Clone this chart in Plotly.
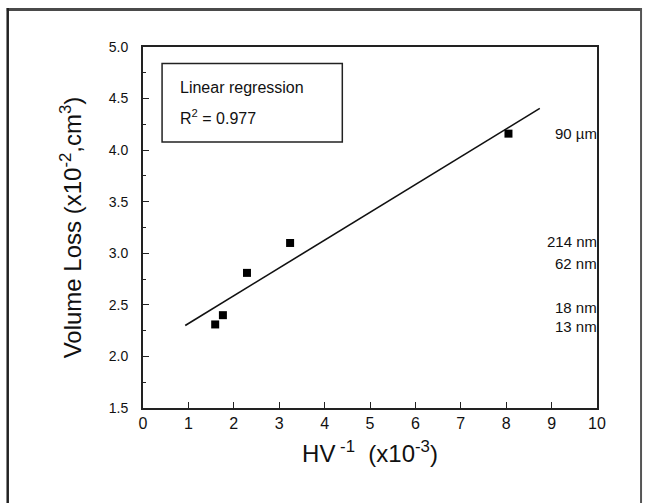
import plotly.graph_objects as go

# Data
hv_inv = [1.59, 1.76, 2.29, 3.24, 8.05]          # HV^-1 (x10^-3)
vol_loss = [2.31, 2.40, 2.81, 3.10, 4.16]        # Volume loss (x10^-2 cm^3)

fit_x = [0.93, 8.74]                              # regression line ends
fit_y = [2.30, 4.405]

size_labels = ["90 µm", "214 nm", "62 nm", "18 nm", "13 nm"]
size_label_y = [4.16, 3.11, 2.90, 2.47, 2.29]

x_ticks = [0, 1, 2, 3, 4, 5, 6, 7, 8, 9, 10]
y_ticks = [1.5, 2.0, 2.5, 3.0, 3.5, 4.0, 4.5, 5.0]

FONT = "Liberation Sans, Arial, sans-serif"
TXT = "#111"

fig = go.Figure()
fig.add_trace(go.Scatter(x=fit_x, y=fit_y, mode="lines",
                         line=dict(color="#111", width=1.6), showlegend=False))
fig.add_trace(go.Scatter(x=hv_inv, y=vol_loss, mode="markers",
                         marker=dict(symbol="square", size=8, color="#000"),
                         showlegend=False))

for t, yv in zip(size_labels, size_label_y):
    fig.add_annotation(x=10, y=yv, xref="x", yref="y", text=t, showarrow=False,
                       xanchor="right", yanchor="middle", xshift=2,
                       font=dict(family=FONT, size=15, color=TXT))

# legend-like box
fig.add_shape(type="rect", xref="x", yref="y", x0=0.42, x1=4.39, y0=4.08, y1=4.84,
              line=dict(color="#222", width=1.5), fillcolor="rgba(0,0,0,0)")
fig.add_annotation(x=0.78, y=4.61, xref="x", yref="y", text="Linear regression",
                   showarrow=False, xanchor="left", yanchor="middle",
                   font=dict(family=FONT, size=16, color=TXT))
fig.add_annotation(x=0.78, y=4.325, xref="x", yref="y", text="R<sup>2</sup> = 0.977",
                   showarrow=False, xanchor="left", yanchor="middle",
                   font=dict(family=FONT, size=16, color=TXT))

# outer frame (top, left, right)
fig.add_shape(type="line", xref="paper", yref="paper", x0=-0.300, x1=1.097, y0=1.104, y1=1.104,
              line=dict(color="#4a4a4a", width=3))
fig.add_shape(type="line", xref="paper", yref="paper", x0=-0.298, x1=-0.298, y0=1.108, y1=-0.30,
              line=dict(color="#222", width=2.5))
fig.add_shape(type="line", xref="paper", yref="paper", x0=1.097, x1=1.097, y0=1.108, y1=-0.30,
              line=dict(color="#555", width=2))

fig.update_xaxes(range=[0, 10], tickvals=x_ticks, ticktext=[str(v) for v in x_ticks],
                 ticks="inside", ticklen=6, tickwidth=1.2, tickcolor="#222",
                 showline=True, linecolor="#222", linewidth=2, mirror=True,
                 showgrid=False, zeroline=False,
                 tickfont=dict(family=FONT, size=16, color=TXT),
                 title=dict(text="HV<sup> -1</sup>  (x10<sup>-3</sup>)",
                            font=dict(family=FONT, size=24, color=TXT), standoff=14))
fig.update_yaxes(range=[1.5, 5.0], tickvals=y_ticks, tickformat=".1f",
                 ticks="inside", ticklen=6, tickwidth=1.2, tickcolor="#222",
                 minor=dict(dtick=0.25, ticks="inside", ticklen=3, tickcolor="#222", tickwidth=1),
                 showline=True, linecolor="#222", linewidth=2, mirror=True,
                 showgrid=False, zeroline=False,
                 tickfont=dict(family=FONT, size=14, color=TXT),
                 ticklabelstandoff=10,
                 title=dict(text="Volume Loss (x10<sup>-2</sup>,cm<sup>3</sup>)",
                            font=dict(family=FONT, size=24, color=TXT), standoff=20))

fig.update_layout(width=646, height=503,
                  margin=dict(l=143, r=49, t=47, b=95),
                  paper_bgcolor="white", plot_bgcolor="white",
                  showlegend=False)

fig.write_html("out.html")
